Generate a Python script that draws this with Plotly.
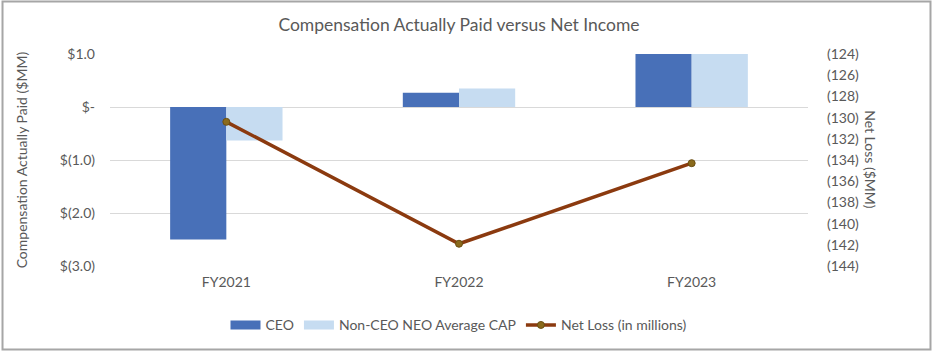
import plotly.graph_objects as go

categories = ["FY2021", "FY2022", "FY2023"]
ceo_cap = [-2.5, 0.27, 1.0]
non_ceo_cap = [-0.63, 0.35, 1.0]
net_loss = [-130.4, -141.9, -134.3]

left_tick_vals = [1, 0, -1, -2, -3]
left_tick_text = ["$1.0", "$-", "$(1.0)", "$(2.0)", "$(3.0)"]
right_tick_vals = [-124, -126, -128, -130, -132, -134, -136, -138, -140, -142, -144]
right_tick_text = ["(124)", "(126)", "(128)", "(130)", "(132)", "(134)", "(136)",
                   "(138)", "(140)", "(142)", "(144)"]

FONT = "Lato, Open Sans, sans-serif"
GRAY = "#595959"
CEO_COLOR = "#4870B8"
NEO_COLOR = "#C6DCF1"

fig = go.Figure()
fig.add_trace(go.Bar(x=categories, y=ceo_cap, name="CEO", marker_color=CEO_COLOR,
                     marker_line_width=0, showlegend=False))
fig.add_trace(go.Bar(x=categories, y=non_ceo_cap, name="Non-CEO NEO Average CAP",
                     marker_color=NEO_COLOR, marker_line_width=0, showlegend=False))
fig.add_trace(go.Scatter(x=categories, y=net_loss, name="Net Loss (in millions)",
                         yaxis="y2", mode="lines+markers", showlegend=False,
                         line=dict(color="#8B3A0F", width=3.5),
                         marker=dict(size=7, color="#8A6A1C",
                                     line=dict(color="#6B4E12", width=1))))
# legend entries (wide swatches like the original)
fig.add_trace(go.Scatter(x=[None], y=[None], mode="lines", name="CEO",
                         line=dict(color=CEO_COLOR, width=9), hoverinfo="skip"))
fig.add_trace(go.Scatter(x=[None], y=[None], mode="lines", name="Non-CEO NEO Average CAP",
                         line=dict(color=NEO_COLOR, width=9), hoverinfo="skip"))
fig.add_trace(go.Scatter(x=[None], y=[None], mode="lines+markers", name="Net Loss (in millions)",
                         line=dict(color="#8B3A0F", width=3.5),
                         marker=dict(size=7, color="#8A6A1C",
                                     line=dict(color="#6B4E12", width=1)),
                         hoverinfo="skip"))

fig.update_layout(
    width=938, height=358,
    margin=dict(l=110, r=130, t=54, b=92),
    paper_bgcolor="white", plot_bgcolor="white",
    font=dict(family=FONT, color=GRAY, size=14),
    barmode="group", bargap=0.517, bargroupgap=0,
    title=dict(text="Compensation Actually Paid versus Net Income",
               x=0.5, xref="paper", xanchor="center", y=0.93, yanchor="middle",
               font=dict(size=17.5, color=GRAY, family=FONT)),
    xaxis=dict(showgrid=False, showline=False, ticks="", zeroline=False,
               tickfont=dict(size=14, color=GRAY), ticklabelstandoff=6),
    yaxis=dict(range=[-3, 1], tickvals=left_tick_vals, ticktext=left_tick_text,
               showgrid=True, gridcolor="#D9D9D9", gridwidth=1.2, zeroline=False,
               showline=False, ticks="", ticklabelstandoff=14,
               tickfont=dict(size=14, color=GRAY)),
    yaxis2=dict(range=[-144, -124], tickvals=right_tick_vals, ticktext=right_tick_text,
                overlaying="y", side="right", showgrid=False, zeroline=False,
                showline=False, ticks="", ticklabelstandoff=18,
                tickfont=dict(size=14, color=GRAY)),
    legend=dict(orientation="h", x=0.5, xanchor="center", y=-0.28, yanchor="middle",
                font=dict(size=14, color=GRAY), itemwidth=30, traceorder="normal"),
    showlegend=True,
)

fig.add_annotation(text="Compensation Actually Paid ($MM)", xref="paper", yref="paper",
                   x=-0.127, y=0.5, textangle=-90, showarrow=False,
                   font=dict(size=14, color=GRAY, family=FONT),
                   xanchor="center", yanchor="middle")
fig.add_annotation(text="Net Loss ($MM)", xref="paper", yref="paper",
                   x=1.09, y=0.5, textangle=90, showarrow=False,
                   font=dict(size=14, color=GRAY, family=FONT),
                   xanchor="center", yanchor="middle")

fig.add_shape(type="rect", xref="paper", yref="paper",
              x0=-0.154, x1=1.1755, y0=-0.394, y1=1.2476,
              line=dict(color="#A6A6A6", width=2), fillcolor="rgba(0,0,0,0)", layer="below")

fig.write_html("out.html", config={"displayModeBar": False},
               post_script="document.body.style.margin='0px';")
